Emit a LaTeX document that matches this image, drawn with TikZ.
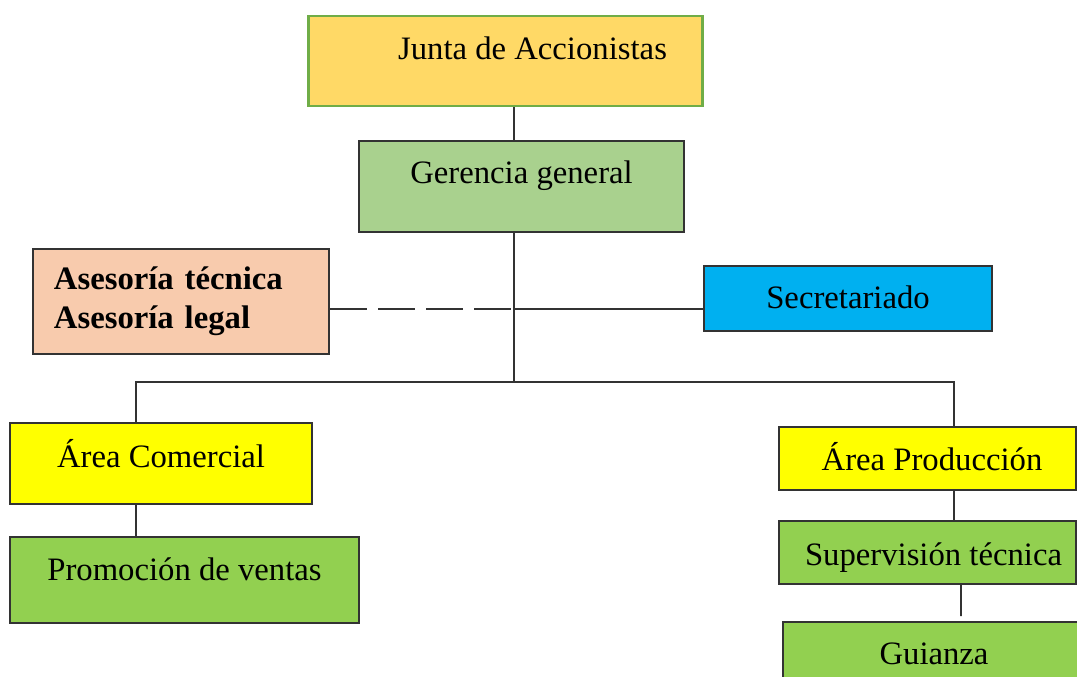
\documentclass[tikz,border=0pt]{standalone}
\usepackage{fontspec}
\setmainfont{Liberation Serif}
\usepackage{xcolor}
\usetikzlibrary{positioning,calc}

\definecolor{juntaFill}{HTML}{FFD966}
\definecolor{juntaLine}{HTML}{70AD47}
\definecolor{gerFill}{HTML}{A9D18E}
\definecolor{asesFill}{HTML}{F8CBAD}
\definecolor{secFill}{HTML}{00B0F0}
\definecolor{areaFill}{HTML}{FFFF00}
\definecolor{subFill}{HTML}{92D050}
\definecolor{edge}{HTML}{333333}

\begin{document}
\begin{tikzpicture}[
  x=0.01cm, y=-0.01cm,
  every node/.style={font=\fontsize{9.3}{11.2}\selectfont},
  unit/.style={rectangle, draw=edge, line width=0.5pt, inner sep=0pt, text height=0.25cm, text depth=0.05cm},
  link/.style={draw=edge, line width=0.5pt},
  dottie/.style={link, dash pattern=on 0.37cm off 0.11cm}
]
\useasboundingbox (0,0) rectangle (1077,677);
\clip (0,0) rectangle (1077,677);

% boxes
\node[unit, draw=juntaLine, line width=0.8pt, fill=juntaFill, minimum width=3.93cm, minimum height=0.90cm, text depth=0.274cm] (junta) at (505.5,61) {\hspace*{0.54cm}Junta de Accionistas};
\node[unit, fill=gerFill, minimum width=3.25cm, minimum height=0.91cm, text depth=0.304cm] (gerencia) at (521.5,186.5) {Gerencia general};
\node[rectangle, draw=edge, line width=0.5pt, fill=asesFill, minimum width=2.96cm, minimum height=1.05cm, inner xsep=0.21cm, text width=2.54cm, align=left, font=\fontsize{9.3}{11}\selectfont\bfseries] (asesoria) at (181,301.5) {Asesoría técnica\\Asesoría legal};
\node[unit, fill=secFill, minimum width=2.88cm, minimum height=0.65cm, text depth=0.054cm] (secret) at (848,298.5) {Secretariado};
\node[unit, fill=areaFill, minimum width=3.02cm, minimum height=0.81cm, text depth=0.164cm] (comercial) at (161,463.5) {Área Comercial};
\node[unit, fill=subFill, minimum width=3.49cm, minimum height=0.86cm, text depth=0.234cm] (promocion) at (184.5,580) {Promoción de ventas};
\node[unit, fill=areaFill, minimum width=2.97cm, minimum height=0.63cm, text depth=0.014cm] (produccion) at (927.5,458.5) {\hspace*{0.09cm}Área Producción};
\node[unit, fill=subFill, minimum width=2.97cm, minimum height=0.63cm, text depth=0cm] (supervision) at (927.5,552.5) {\hspace*{0.12cm}Supervisión técnica};
\node[unit, fill=subFill, minimum width=2.97cm, minimum height=0.68cm, text depth=0.074cm] (guianza) at (931.5,656) {\hspace*{0.05cm}Guianza};

% junctions
\coordinate (hub) at (514,382);
\coordinate (tie) at (514,309);
\coordinate (left) at (136,382);
\coordinate (right) at (954,382);

% connectors
\draw[link] (junta.south -| hub) -- (gerencia.north -| hub);
\draw[link] (gerencia.south -| hub) -- (hub);
\draw[link] (tie) -- (tie -| secret.west);
\draw[dottie] (asesoria.east |- tie) -- (tie);
\draw[link] (comercial.north -| left) -- (left) -- (right) -- (produccion.north -| right);
\draw[link] (comercial.south -| left) -- (promocion.north -| left);
\draw[link] (produccion.south -| right) -- (supervision.north -| right);
\draw[link] ([xshift=0.335cm]supervision.south) -- ([xshift=0.295cm, yshift=0.05cm]guianza.north);
\end{tikzpicture}
\end{document}
